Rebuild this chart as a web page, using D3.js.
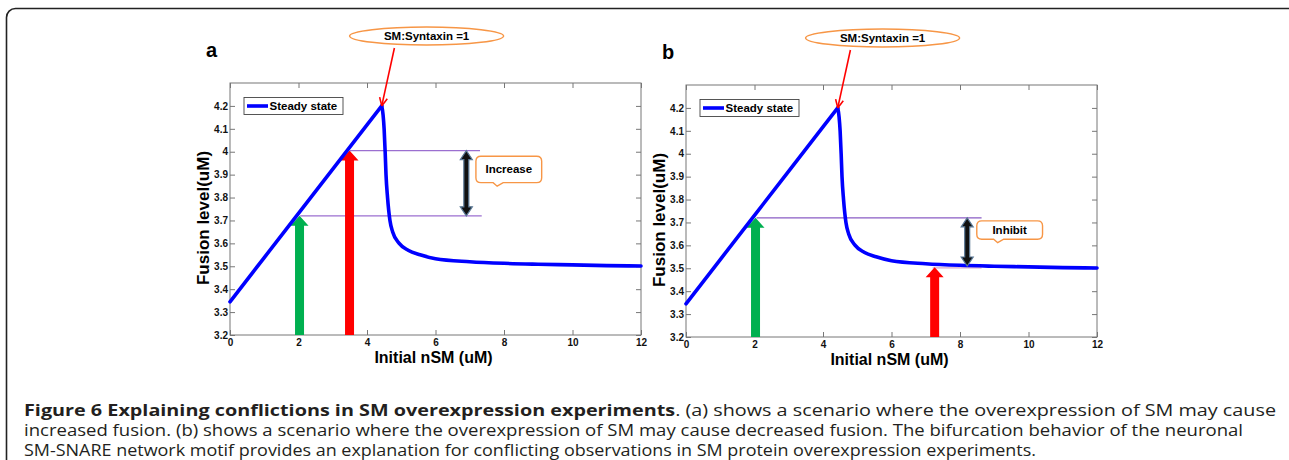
<!DOCTYPE html>
<html>
<head>
<meta charset="utf-8">
<script src="https://cdn.jsdelivr.net/npm/d3@7"></script>
<style>
  body { margin: 0; background: #fff; }
  svg { display: block; }
</style>
</head>
<body>
<script>
"use strict";

// steady-state curve (same bifurcation curve in both panels)
const nsm    = [0, 1, 2, 3, 4, 4.43, 4.47, 4.5, 4.53, 4.555, 4.6, 4.67, 4.75, 4.94, 5.2, 5.55, 6, 7, 8, 9, 10, 11, 12];
const fusion = [3.345, 3.538, 3.731, 3.924, 4.117, 4.2, 4.16, 4.1, 4.0, 3.9, 3.8, 3.7, 3.65, 3.6, 3.57, 3.55, 3.533, 3.52, 3.513, 3.509, 3.506, 3.503, 3.501];
const peakIndex = 5;

const xTicks = [0, 2, 4, 6, 8, 10, 12];
const yTicks = [3.2, 3.3, 3.4, 3.5, 3.6, 3.7, 3.8, 3.9, 4.0, 4.1, 4.2];

// annotations, panel a
const levelsA = [{ y: 4.005, x0: 3.5, x1: 7.3 }, { y: 3.72, x0: 2.05, x1: 7.35 }];
const arrowsA = [{ x: 2.03, y: 3.72, c: "#00b050" }, { x: 3.49, y: 4.005, c: "#ff0000" }];
const spanA = { x: 6.9, y0: 3.72, y1: 4.005 };
const noteA = { text: "Increase", x0: 7.18, x1: 9.1, y0: 3.98, y1: 3.865, tail: 7.8 };

// annotations, panel b
const levelsB = [{ y: 3.72, x0: 2.06, x1: 8.63 }, { y: 3.502, x0: 7.2, x1: 8.63 }];
const arrowsB = [{ x: 2.03, y: 3.72, c: "#00b050" }, { x: 7.26, y: 3.505, c: "#ff0000" }];
const spanB = { x: 8.21, y0: 3.51, y1: 3.72 };
const noteB = { text: "Inhibit", x0: 8.49, x1: 10.41, y0: 3.707, y1: 3.627, tail: 9.1 };

const peak = { x: 4.43, y: 4.2, from: 4.8, label: "SM:Syntaxin =1", cx: 5.74 };

const captionBold = "Figure 6 Explaining conflictions in SM overexpression experiments";
const captionLines = [
  ". (a) shows a scenario where the overexpression of SM may cause",
  "increased fusion. (b) shows a scenario where the overexpression of SM may cause decreased fusion. The bifurcation behavior of the neuronal",
  "SM-SNARE network motif provides an explanation for conflicting observations in SM protein overexpression experiments."
];

const W = 1289, H = 460;
const svg = d3.select("body").append("svg").attr("width", W).attr("height", H);

svg.append("rect")
  .attr("x", 6.5).attr("y", 8.5).attr("width", 1300).attr("height", 520)
  .attr("rx", 9).attr("fill", "none").attr("stroke", "#222").attr("stroke-width", 1.6);

const axisFont = "'Liberation Sans', Arial, sans-serif";

function drawPanel(opts) {
  const x = d3.scaleLinear().domain([0, 12]).range([opts.left, opts.right]);
  const y = d3.scaleLinear().domain([3.2, 4.3]).range([opts.bottom, opts.top]);
  const g = svg.append("g");

  const fmt = d => String(+d.toFixed(1));

  const ax = [
    g.append("g").attr("transform", `translate(0,${opts.bottom})`)
      .call(d3.axisBottom(x).tickValues(xTicks).tickSizeInner(-5).tickSizeOuter(0).tickPadding(4)),
    g.append("g").attr("transform", `translate(0,${opts.top})`)
      .call(d3.axisTop(x).tickValues(xTicks).tickSizeInner(-5).tickSizeOuter(0).tickFormat("")),
    g.append("g").attr("transform", `translate(${opts.left},0)`)
      .call(d3.axisLeft(y).tickValues(yTicks).tickSizeInner(-5).tickSizeOuter(0).tickPadding(2).tickFormat(fmt)),
    g.append("g").attr("transform", `translate(${opts.right},0)`)
      .call(d3.axisRight(y).tickValues(yTicks).tickSizeInner(-5).tickSizeOuter(0).tickFormat(""))
  ];
  ax.forEach(a => {
    a.select(".domain").remove();
    a.selectAll("line").attr("stroke", "#777");
    a.selectAll("text").attr("font-family", axisFont).attr("font-weight", "bold")
      .attr("font-size", 10).attr("fill", "#111");
  });

  g.append("rect")
    .attr("x", opts.left).attr("y", opts.top)
    .attr("width", opts.right - opts.left).attr("height", opts.bottom - opts.top)
    .attr("fill", "none").attr("stroke", "#777").attr("stroke-width", 1);

  // level lines
  g.selectAll(".lvl").data(opts.levels).enter().append("line")
    .attr("x1", d => x(d.x0)).attr("x2", d => x(d.x1))
    .attr("y1", d => y(d.y)).attr("y2", d => y(d.y))
    .attr("stroke", (d, i) => opts.levelColors[i]).attr("stroke-width", 1.2);

  // block arrows from the x axis
  g.selectAll(".blk").data(opts.arrows).enter().append("path")
    .attr("fill", d => d.c)
    .attr("d", d => {
      const cx = x(d.x), t = y(d.y), b = opts.bottom;
      return `M${cx},${t}L${cx + 9},${t + 10}L${cx + 4.5},${t + 10}L${cx + 4.5},${b}` +
             `L${cx - 4.5},${b}L${cx - 4.5},${t + 10}L${cx - 9},${t + 10}Z`;
    });

  // curve: straight rising branch, smooth falling branch
  const pts = d3.zip(nsm, fusion);
  const rise = d3.line().x(d => x(d[0])).y(d => y(d[1]));
  const fall = d3.line().x(d => x(d[0])).y(d => y(d[1])).curve(d3.curveMonotoneX);
  [[pts.slice(0, peakIndex + 1), rise], [pts.slice(peakIndex), fall]].forEach(([seg, gen]) => {
    g.append("path")
      .datum(seg)
      .attr("d", gen)
      .attr("fill", "none").attr("stroke", "#0000ff").attr("stroke-width", 3.6)
      .attr("stroke-linejoin", "round").attr("stroke-linecap", "round");
  });

  // double-headed arrow
  const s = opts.span, cx = x(s.x), yt = y(s.y1), yb = y(s.y0);
  g.append("path")
    .attr("d", `M${cx},${yt}L${cx + 6},${yt + 9}L${cx + 2.5},${yt + 9}L${cx + 2.5},${yb - 9}L${cx + 6},${yb - 9}` +
               `L${cx},${yb}L${cx - 6},${yb - 9}L${cx - 2.5},${yb - 9}L${cx - 2.5},${yt + 9}L${cx - 6},${yt + 9}Z`)
    .attr("fill", "#111").attr("stroke", "#5a7895").attr("stroke-width", 1.2);

  // note box
  const n = opts.note, bx0 = x(n.x0), bx1 = x(n.x1), by0 = y(n.y0), by1 = y(n.y1), tx = x(n.tail);
  const r = 5;
  g.append("path")
    .attr("d", `M${bx0 + r},${by0}H${bx1 - r}Q${bx1},${by0} ${bx1},${by0 + r}V${by1 - r}Q${bx1},${by1} ${bx1 - r},${by1}` +
               `H${tx + 6}L${tx},${by1 + 3.5}L${tx - 4},${by1}H${bx0 + r}Q${bx0},${by1} ${bx0},${by1 - r}V${by0 + r}Q${bx0},${by0} ${bx0 + r},${by0}Z`)
    .attr("fill", "#fff").attr("stroke", "#f79646").attr("stroke-width", 1.4);
  g.append("text")
    .attr("x", (bx0 + bx1) / 2).attr("y", (by0 + by1) / 2 + 4)
    .attr("text-anchor", "middle")
    .attr("font-family", axisFont).attr("font-weight", "bold").attr("font-size", 11.5)
    .text(n.text);

  // legend
  const lg = g.append("g").attr("transform", `translate(${opts.left + 14},${opts.top + 14.5})`);
  lg.append("rect").attr("width", 99).attr("height", 17)
    .attr("fill", "#fff").attr("stroke", "#444").attr("stroke-width", 0.9);
  lg.append("line").attr("x1", 3).attr("x2", 24).attr("y1", 8.5).attr("y2", 8.5)
    .attr("stroke", "#0000ff").attr("stroke-width", 3.6);
  lg.append("text").attr("x", 25.5).attr("y", 12.6)
    .attr("font-family", axisFont).attr("font-weight", "bold").attr("font-size", 11.5)
    .text("Steady state");

  // peak callout
  const ecx = x(peak.cx), ecy = opts.top - 47;
  const sx = x(peak.from), sy = ecy + 12, ex = x(peak.x), ey = y(peak.y);
  g.append("line").attr("x1", sx).attr("y1", sy).attr("x2", ex).attr("y2", ey)
    .attr("stroke", "#ff0000").attr("stroke-width", 1.6);
  const ang = Math.atan2(ey - sy, ex - sx);
  [0.45, -0.45].forEach(da => {
    g.append("line").attr("x1", ex).attr("y1", ey)
      .attr("x2", ex - 9 * Math.cos(ang + da)).attr("y2", ey - 9 * Math.sin(ang + da))
      .attr("stroke", "#ff0000").attr("stroke-width", 1.6);
  });
  g.append("ellipse").attr("cx", ecx).attr("cy", ecy).attr("rx", 77).attr("ry", 9)
    .attr("fill", "#fff").attr("stroke", "#f79646").attr("stroke-width", 1.5);
  g.append("text").attr("x", ecx).attr("y", ecy + 4)
    .attr("text-anchor", "middle")
    .attr("font-family", axisFont).attr("font-weight", "bold").attr("font-size", 11.5)
    .text(peak.label);

  // axis titles and panel letter
  g.append("text")
    .attr("x", (opts.left + opts.right) / 2 - 2).attr("y", opts.bottom + 28)
    .attr("text-anchor", "middle")
    .attr("font-family", axisFont).attr("font-weight", "bold").attr("font-size", 16)
    .text("Initial nSM (uM)");
  g.append("text")
    .attr("transform", `translate(${opts.left - 21},${(opts.top + opts.bottom) / 2 + 9}) rotate(-90)`)
    .attr("text-anchor", "middle")
    .attr("font-family", axisFont).attr("font-weight", "bold").attr("font-size", 17)
    .text("Fusion level(uM)");
  g.append("text")
    .attr("x", opts.left - 24).attr("y", opts.top - 26)
    .attr("font-family", axisFont).attr("font-weight", "bold").attr("font-size", 20)
    .text(opts.letter);
}

drawPanel({
  letter: "a", left: 230, right: 641, top: 83, bottom: 335,
  levels: levelsA, levelColors: ["#9b6fd0", "#9b6fd0"],
  arrows: arrowsA, span: spanA, note: noteA
});
drawPanel({
  letter: "b", left: 686, right: 1097, top: 85, bottom: 337,
  levels: levelsB, levelColors: ["#8a5cc4", "#d8a6cc"],
  arrows: arrowsB, span: spanB, note: noteB
});

// caption
const capFont = "'Open Sans', 'Noto Sans', sans-serif";
const capWidths = [1252, 1219, 1012];
const cap = svg.append("g").attr("font-family", capFont).attr("font-size", 15.5).attr("fill", "#231f20");
const l1 = cap.append("text").attr("x", 24).attr("y", 416)
  .attr("textLength", capWidths[0]).attr("lengthAdjust", "spacingAndGlyphs");
l1.append("tspan").attr("font-weight", "bold").text(captionBold);
l1.append("tspan").text(captionLines[0]);
captionLines.slice(1).forEach((t, i) => {
  cap.append("text").attr("x", 24).attr("y", 436.3 + i * 19.8)
    .attr("textLength", capWidths[i + 1]).attr("lengthAdjust", "spacingAndGlyphs")
    .text(t);
});
</script>
</body>
</html>
